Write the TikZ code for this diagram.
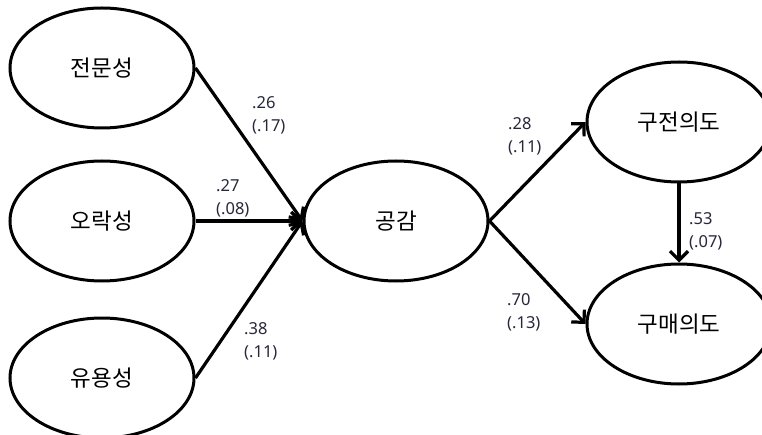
\documentclass[tikz,border=0pt]{standalone}
\usepackage{fontspec}
\setmainfont{Noto Sans}
\newfontfamily\kr{Noto Sans CJK KR}
\usetikzlibrary{arrows.meta,shapes.geometric}
\definecolor{labc}{RGB}{40,40,60}
\begin{document}
\begin{tikzpicture}[x=1pt,y=-1pt,
  latent/.style={draw=black, line width=3pt, ellipse, minimum width=184pt, minimum height=120pt, inner sep=0pt, font=\kr\fontsize{22.5}{26}\selectfont},
  path/.style={line width=3.2pt, -{Straight Barb[length=9pt,width=18pt]}},
  lab/.style={anchor=west, inner sep=0pt, align=left, text=labc, font=\fontsize{16.5}{23}\selectfont}]
\useasboundingbox (0,0) rectangle (762,435);
\clip (0,0) rectangle (762,435);
\fill[white] (0,0) rectangle (762,435);
\node[latent] (a) at (102,68) {전문성};
\node[latent] (b) at (102,221) {오락성};
\node[latent] (c) at (102,378) {유용성};
\node[latent] (g) at (396,221) {공감};
\node[latent] (w) at (679,122) {구전의도};
\node[latent] (p) at (679,324) {구매의도};
\draw[path] (a.east) -- (g.west);
\draw[path] (b.east) -- (g.west);
\draw[path] (c.east) -- (g.west);
\draw[path] (g.east) -- (w.west);
\draw[path] (g.east) -- (p.west);
\draw[path] (w.south) -- (p.north);
\node[lab] (l1) at (252,115.5) {.26\\(.17)};
\node[lab] (l2) at (216,198) {.27\\(.08)};
\node[lab] (l3) at (244,341) {.38\\(.11)};
\node[lab] (l4) at (508,136.5) {.28\\(.11)};
\node[lab] (l5) at (507,312.5) {.70\\(.13)};
\node[lab] (l6) at (689,231.5) {.53\\(.07)};
\end{tikzpicture}
\end{document}
